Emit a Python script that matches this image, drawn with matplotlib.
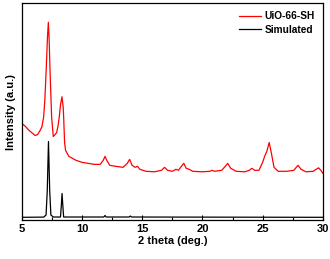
import matplotlib
matplotlib.use("Agg")
import matplotlib.pyplot as plt
from matplotlib.ticker import MultipleLocator

# === Data (intensity in arbitrary units) ===
uio_x = [5.0, 5.3, 5.6, 5.9, 6.1, 6.3, 6.5, 6.66, 6.8, 6.9, 7.02, 7.12, 7.19, 7.26,
         7.32, 7.46, 7.6, 7.75, 7.88, 8.0, 8.1, 8.2, 8.32, 8.42, 8.46, 8.54, 8.62,
         8.9, 9.5, 10.0, 10.5, 11.0, 11.5,
         11.75, 11.9, 12.05, 12.3, 12.8, 13.4, 13.75, 13.95, 14.15, 14.4, 14.6,
         14.8, 15.3, 16.0, 16.6, 16.85, 17.1, 17.5, 17.8, 18.0, 18.25, 18.45,
         18.65, 18.9, 19.2, 20.0, 20.6, 20.8, 21.0, 21.6, 21.9, 22.1, 22.35,
         22.8, 23.5, 23.9, 24.1, 24.35, 24.7, 25.0, 25.2, 25.35, 25.55, 25.75,
         25.95, 26.3, 27.0, 27.6, 27.8, 27.95, 28.2, 28.6, 29.2, 29.45, 29.65,
         29.85, 30.0]
uio_y = [97, 94, 90, 87, 85, 86, 90, 94, 104, 121, 154, 185, 199, 180,
         154, 104, 84, 86, 88, 95, 104, 116, 124, 114, 104, 78, 70,
         64, 60, 58, 57, 56, 56,
         60, 64, 60, 55, 54, 53, 57, 61, 55, 53, 54,
         51, 49, 48.5, 50, 53, 50, 49, 51, 50, 54, 57,
         52, 51, 49, 48.5, 49, 50, 49, 50, 54, 57, 52,
         49, 48.5, 50, 52, 50, 50, 58, 65, 69, 78, 66,
         53, 49, 49, 50, 53, 55, 51, 48.5, 49, 51, 52.5,
         50, 47]

sim_x = [5.0, 6.8, 7.0, 7.1, 7.2, 7.3, 7.4, 7.6, 8.2, 8.27, 8.33, 8.39, 8.46,
         11.8, 11.9, 12.0, 13.9, 14.0, 14.1, 30.0]
sim_y = [2.7, 2.9, 5, 30, 79, 30, 5, 3, 3, 15, 26.7, 15, 3,
         3, 4.5, 3, 3, 4, 3, 2.7]

plt.rcParams["font.family"] = "Liberation Sans"
plt.rcParams["font.weight"] = "bold"

fig = plt.figure(figsize=(3.3, 2.59), dpi=100)
ax = fig.add_axes([0.0667, 0.1506, 0.9113, 0.8364])

ax.plot(uio_x, uio_y, color="red", lw=0.9, label="UiO-66-SH")
ax.plot(sim_x, sim_y, color="black", lw=0.9, label="Simulated")

ax.set_xlim(5, 30)
ax.set_ylim(0, 218)
ax.set_yticks([])
ax.xaxis.set_major_locator(MultipleLocator(5))
ax.xaxis.set_minor_locator(MultipleLocator(2.5))
ax.tick_params(axis="x", which="major", direction="in", length=3.5, width=0.8,
               labelsize=8, pad=3)
ax.tick_params(axis="x", which="minor", direction="in", length=2, width=0.8)
for lab in ax.get_xticklabels():
    lab.set_fontweight("bold")
for s in ax.spines.values():
    s.set_linewidth(0.9)

ax.set_xlabel("2 theta (deg.)", fontsize=8, fontweight="bold", labelpad=1)
ax.set_ylabel("Intensity (a.u.)", fontsize=8, fontweight="bold", labelpad=4)

leg = ax.legend(loc="upper right", frameon=False, fontsize=7.3, handlelength=2.2,
                handletextpad=0.3, labelspacing=0.3, borderaxespad=0.4)
for t in leg.get_texts():
    t.set_fontweight("bold")

fig.savefig("out.png", dpi=100)
